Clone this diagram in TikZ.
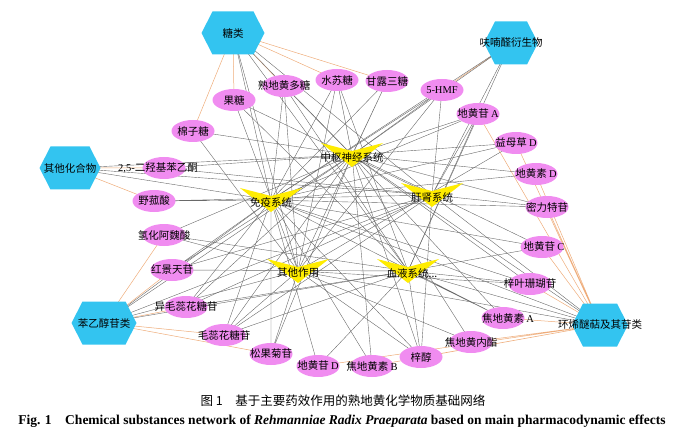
\documentclass[tikz,border=0pt]{standalone}
\usepackage{fontspec}
\setmainfont{Liberation Serif}
\newfontfamily\cjk{Noto Sans CJK SC}
\usetikzlibrary{shapes.geometric}
\definecolor{hexblue}{RGB}{51,196,240}
\definecolor{cmppink}{RGB}{240,140,240}
\definecolor{effyellow}{RGB}{255,236,0}
\definecolor{catline}{RGB}{238,172,122}
\definecolor{effline}{RGB}{105,105,105}
\pgfdeclarelayer{bg}
\pgfsetlayers{bg,main}
\begin{document}
\begin{tikzpicture}[x=1pt,y=-1pt,
  every label/.style={font=\cjk\fontsize{10.5}{12}\selectfont, inner sep=0},
  cat/.style={rectangle, inner sep=0, minimum height=43,
    path picture={\fill[hexblue] (path picture bounding box.west)
      -- ([xshift=11pt]path picture bounding box.north west)
      -- ([xshift=-11pt]path picture bounding box.north east)
      -- (path picture bounding box.east)
      -- ([xshift=-11pt]path picture bounding box.south east)
      -- ([xshift=11pt]path picture bounding box.south west) -- cycle;}},
  eff/.style={rectangle, inner sep=0, minimum width=62, minimum height=24,
    path picture={\fill[effyellow] (path picture bounding box.north west)
      -- ([yshift=-8pt]path picture bounding box.north)
      -- (path picture bounding box.north east)
      -- (path picture bounding box.south) -- cycle;}},
  cmp/.style={ellipse, fill=cmppink, inner sep=0, minimum width=43, minimum height=22},
  catl/.style={catline, line width=0.5pt},
  effl/.style={effline, line width=0.4pt}]
\useasboundingbox (0,0) rectangle (683,441);

\node[cat, minimum width=63, label=center:糖类] (sug) at (233,33) {};
\node[cat, minimum width=54, label=center:呋喃醛衍生物] (fur) at (511,43) {};
\node[cat, minimum width=61, label=center:其他化合物] (misc) at (70,168) {};
\node[cat, minimum width=65, label=center:苯乙醇苷类] (phe) at (104,323) {};
\node[cat, minimum width=56, label=center:环烯醚萜及其苷类] (iri) at (600,325) {};

\node[eff, label={[yshift=-2pt]center:中枢神经系统}] (cns) at (352,155) {};
\node[eff, label={[yshift=-2pt]center:免疫系统}] (imm) at (271,200) {};
\node[eff, label={[yshift=-2pt]center:肝肾系统}] (lk) at (432,195) {};
\node[eff, label={[yshift=-2pt]center:其他作用}] (oe) at (298,271) {};
\node[eff, label={[yshift=-2pt,xshift=4pt]center:血液系统...}] (bl) at (408,271) {};

\node[cmp, label=center:熟地黄多糖] (sdp) at (284,86) {};
\node[cmp, label=center:水苏糖] (sts) at (337,80) {};
\node[cmp, label=center:甘露三糖] (glt) at (387,81) {};
\node[cmp, label=center:{\rmfamily 5-HMF}] (hmf) at (442,90) {};
\node[cmp, label=center:果糖] (fru) at (234,100) {};
\node[cmp, label=center:棉子糖] (raf) at (193,131) {};
\node[cmp, label=center:{地黄苷 \rmfamily A}] (dha) at (478,114) {};
\node[cmp, label={[xshift=-6pt]center:{\rmfamily 2,5-}二羟基苯乙酮}] (dhap) at (164,168) {};
\node[cmp, label=center:野菰酸] (ygs) at (154,201) {};
\node[cmp, label=center:氢化阿魏酸] (hfa) at (164,235) {};
\node[cmp, label=center:红景天苷] (sal) at (172,270) {};
\node[cmp, label=center:异毛蕊花糖苷] (iso) at (186,307) {};
\node[cmp, label=center:毛蕊花糖苷] (act) at (224,335) {};
\node[cmp, label=center:松果菊苷] (ech) at (271,354) {};
\node[cmp, label=center:{地黄苷 \rmfamily D}] (dhd) at (318,366) {};
\node[cmp, label=center:{焦地黄素 \rmfamily B}] (jdb) at (372,366) {};
\node[cmp, label=center:梓醇] (cat) at (421,357) {};
\node[cmp, label=center:焦地黄内酯] (jdl) at (471,342) {};
\node[cmp, label={[xshift=5pt]center:{焦地黄素 \rmfamily A}}] (jda) at (503,318) {};
\node[cmp, label=center:梓叶珊瑚苷] (aub) at (530,284) {};
\node[cmp, label={[xshift=2pt]center:{地黄苷 \rmfamily C}}] (dhc) at (542,247) {};
\node[cmp, label=center:密力特苷] (mel) at (547,207) {};
\node[cmp, label=center:{地黄素 \rmfamily D}] (rsd) at (536,174) {};
\node[cmp, label=center:{益母草 \rmfamily D}] (ymd) at (516,143) {};

\node[font=\cjk\fontsize{12.5}{14}\selectfont] (cap) at (343,401) {图 1\quad 基于主要药效作用的熟地黄化学物质基础网络};
\node[font=\bfseries\fontsize{13.5}{15}\selectfont] (capen) at (342,421) {Fig. 1\quad Chemical substances network of \textit{Rehmanniae Radix Praeparata} based on main pharmacodynamic effects};

\begin{pgfonlayer}{bg}
\draw[catl] (sug.center) -- (raf.center) (sug.center) -- (fru.center) (sug.center) -- (sdp.center)
  (sug.center) -- (sts.center) (sug.center) -- (glt.center);
\draw[catl] (fur.center) -- (hmf.center);
\draw[catl] (misc.center) -- (dhap.center) (misc.center) -- (ygs.center);
\draw[catl] (phe.center) -- (hfa.center) (phe.center) -- (sal.center) (phe.center) -- (iso.center)
  (phe.center) -- (act.center) (phe.center) -- (ech.center);
\draw[catl] (iri.center) -- (dha.center) (iri.center) -- (ymd.center) (iri.center) -- (rsd.center)
  (iri.center) -- (mel.center) (iri.center) -- (dhc.center) (iri.center) -- (aub.center)
  (iri.center) -- (jda.center) (iri.center) -- (jdl.center) (iri.center) -- (cat.center)
  (iri.center) -- (jdb.center) (iri.center) -- (dhd.center);

\draw[effl] (sug.center) -- (imm.center) (sug.center) -- (cns.center) (sug.center) -- (lk.center)
  (sug.center) -- (oe.center) (sug.center) -- (bl.center);
\draw[effl] (fur.center) -- (cns.center) (fur.center) -- (lk.center) (fur.center) -- (imm.center)
  (fur.center) -- (bl.center);
\draw[effl] (misc.center) -- (cns.center) (misc.center) -- (imm.center) (misc.center) -- (lk.center);
\draw[effl] (phe.center) -- (cns.center) (phe.center) -- (imm.center) (phe.center) -- (lk.center)
  (phe.center) -- (oe.center) (phe.center) -- (bl.center);
\draw[effl] (iri.center) -- (cns.center) (iri.center) -- (lk.center) (iri.center) -- (bl.center)
  (iri.center) -- (oe.center) (iri.center) -- (imm.center);

\draw[effl] (sdp.center) -- (imm.center) (sdp.center) -- (oe.center) (sdp.center) -- (bl.center)
  (sdp.center) -- (cns.center);
\draw[effl] (sts.center) -- (imm.center) (sts.center) -- (cns.center) (sts.center) -- (oe.center)
  (sts.center) -- (bl.center);
\draw[effl] (glt.center) -- (imm.center) (glt.center) -- (oe.center) (glt.center) -- (cns.center);
\draw[effl] (hmf.center) -- (cns.center) (hmf.center) -- (imm.center) (hmf.center) -- (lk.center)
  (hmf.center) -- (oe.center);
\draw[effl] (fru.center) -- (oe.center) (fru.center) -- (bl.center) (fru.center) -- (lk.center);
\draw[effl] (raf.center) -- (oe.center) (raf.center) -- (cns.center);
\draw[effl] (dha.center) -- (cns.center) (dha.center) -- (imm.center) (dha.center) -- (bl.center)
  (dha.center) -- (lk.center);
\draw[effl] (dhap.center) -- (cns.center) (dhap.center) -- (lk.center);
\draw[effl] (ygs.center) -- (imm.center) (ygs.center) -- (lk.center);
\draw[effl] (hfa.center) -- (cns.center) (hfa.center) -- (bl.center) (hfa.center) -- (oe.center);
\draw[effl] (sal.center) -- (cns.center) (sal.center) -- (imm.center) (sal.center) -- (lk.center)
  (sal.center) -- (bl.center);
\draw[effl] (iso.center) -- (cns.center) (iso.center) -- (imm.center) (iso.center) -- (lk.center)
  (iso.center) -- (bl.center);
\draw[effl] (act.center) -- (cns.center) (act.center) -- (imm.center) (act.center) -- (lk.center)
  (act.center) -- (oe.center) (act.center) -- (bl.center);
\draw[effl] (ech.center) -- (cns.center) (ech.center) -- (imm.center) (ech.center) -- (oe.center);
\draw[effl] (dhd.center) -- (imm.center) (dhd.center) -- (bl.center);
\draw[effl] (jdb.center) -- (cns.center) (jdb.center) -- (imm.center);
\draw[effl] (cat.center) -- (cns.center) (cat.center) -- (imm.center) (cat.center) -- (lk.center)
  (cat.center) -- (oe.center) (cat.center) -- (bl.center);
\draw[effl] (jdl.center) -- (cns.center) (jdl.center) -- (oe.center);
\draw[effl] (jda.center) -- (cns.center) (jda.center) -- (imm.center) (jda.center) -- (bl.center);
\draw[effl] (aub.center) -- (cns.center) (aub.center) -- (imm.center) (aub.center) -- (bl.center)
  (aub.center) -- (oe.center);
\draw[effl] (dhc.center) -- (cns.center) (dhc.center) -- (imm.center) (dhc.center) -- (bl.center);
\draw[effl] (mel.center) -- (imm.center) (mel.center) -- (lk.center) (mel.center) -- (cns.center);
\draw[effl] (rsd.center) -- (imm.center) (rsd.center) -- (cns.center);
\draw[effl] (ymd.center) -- (cns.center) (ymd.center) -- (imm.center) (ymd.center) -- (oe.center);
\end{pgfonlayer}
\end{tikzpicture}
\end{document}
